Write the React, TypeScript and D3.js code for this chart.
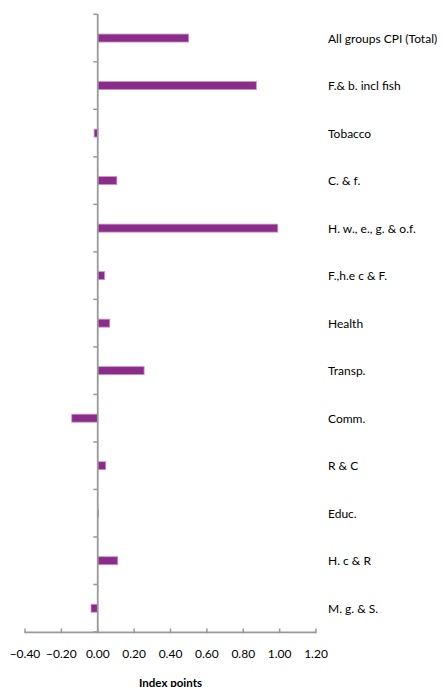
import React from "react";
import * as d3 from "d3";

const categories = [
  "All groups CPI (Total)",
  "F.& b. incl fish",
  "Tobacco",
  "C. & f.",
  "H. w., e., g. & o.f.",
  "F.,h.e c & F.",
  "Health",
  "Transp.",
  "Comm.",
  "R & C",
  "Educ.",
  "H. c & R",
  "M. g. & S.",
];
const values = [0.5, 0.872, -0.02, 0.105, 0.99, 0.038, 0.066, 0.255, -0.143, 0.044, 0.004, 0.11, -0.037];
const xTicks = [-0.4, -0.2, 0, 0.2, 0.4, 0.6, 0.8, 1.0, 1.2];
const xTitle = "Index points";

const W = 443;
const H = 687;
const FONT = "Lato, 'Open Sans', sans-serif";

export default function App() {
  const x = d3.scaleLinear().domain([-0.4, 1.2]).range([25, 316]);
  const y = d3.scaleBand<string>().domain(categories).range([14.3, 632]).paddingInner(0).paddingOuter(0);
  const barH = 8;
  const axisColor = "#999999";
  const x0 = x(0);
  const boundaries = d3.range(categories.length + 1).map((i) => 14.3 + i * y.step());

  return (
    <svg width={W} height={H} style={{ position: "absolute", left: 0, top: 0, background: "#fff" }}>
      {/* bars */}
      {categories.map((c, i) => {
        const v = values[i];
        const cy = (y(c) as number) + y.bandwidth() / 2;
        const xa = x(Math.min(0, v));
        const xb = x(Math.max(0, v));
        return (
          <rect
            key={c}
            x={xa}
            y={cy - barH / 2}
            width={Math.max(0.5, xb - xa)}
            height={barH}
            fill="#8B2C8B"
            stroke="#C996C9"
            strokeWidth={0.8}
          />
        );
      })}
      {/* vertical axis */}
      <line x1={x0} x2={x0} y1={14.3} y2={632.5} stroke={axisColor} strokeWidth={1.8} />
      {boundaries.map((b, i) => (
        <line key={i} x1={x0 - 4.5} x2={x0} y1={b} y2={b} stroke={axisColor} strokeWidth={1.5} />
      ))}
      {/* horizontal axis */}
      <line x1={x(-0.4)} x2={x(1.2)} y1={632.3} y2={632.3} stroke={axisColor} strokeWidth={1.8} />
      {xTicks.map((t) => (
        <line key={t} x1={x(t)} x2={x(t)} y1={628.5} y2={633.2} stroke={axisColor} strokeWidth={1.5} />
      ))}
      {xTicks.map((t) => (
        <text
          key={"l" + t}
          x={x(t)}
          y={653}
          textAnchor="middle"
          dominantBaseline="central"
          fontFamily={FONT}
          fontSize={12}
          fill="#000"
        >
          {d3.format(".2f")(t)}
        </text>
      ))}
      <text
        x={(x(-0.4) + x(1.2)) / 2}
        y={682}
        textAnchor="middle"
        dominantBaseline="central"
        fontFamily={FONT}
        fontSize={11.5}
        fontWeight="bold"
        fill="#000"
      >
        {xTitle}
      </text>
      {/* category labels */}
      {categories.map((c) => (
        <text
          key={"c" + c}
          x={328}
          y={(y(c) as number) + y.bandwidth() / 2}
          dominantBaseline="central"
          fontFamily={FONT}
          fontSize={12}
          fill="#000"
        >
          {c}
        </text>
      ))}
    </svg>
  );
}
